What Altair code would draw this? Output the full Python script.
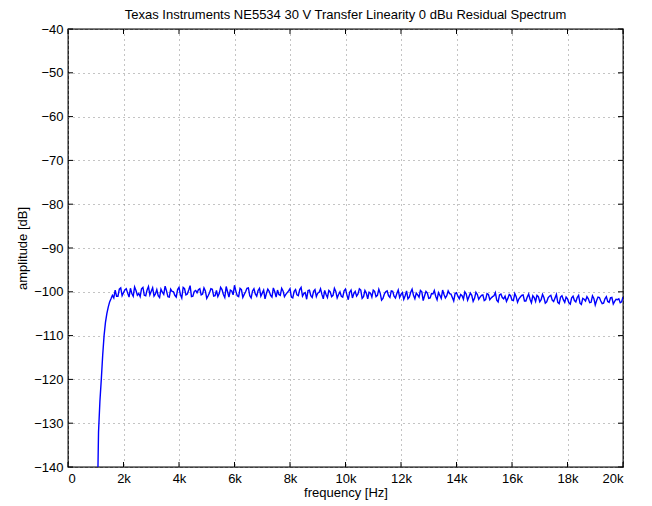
import altair as alt
import pandas as pd

# Rising edge
freq_rise = [1080, 1100, 1150, 1200, 1250, 1300, 1350, 1400, 1450, 1500, 1550, 1600, 1650, 1700, 1750]
amp_rise = [-140.0, -132.0, -125.0, -120.0, -114.5, -110.0, -107.0, -105.0, -103.5, -102.3, -101.6, -100.8, -101.4, -99.6, -101.0]

# Noisy plateau, 1.8 kHz .. 20 kHz every 100 Hz
freq_flat = list(range(1800, 20001, 100))
amp_flat = [
    -101.0, -99.1, -100.2, -99.3, -101.2, -100.4, -98.9, -100.8, -101.1, -99.0,
    -100.9, -98.8, -99.9, -101.0, -99.5, -101.3, -100.1, -98.7, -101.1, -99.4,
    -100.0, -101.2, -99.0, -101.4, -99.3, -100.5, -98.6, -101.0, -99.7, -99.5,
    -100.7, -99.1, -101.5, -100.2, -99.4, -100.9, -101.1, -99.0, -100.6, -98.8,
    -101.2, -99.8, -98.5, -100.9, -99.2, -101.3, -100.0, -99.1, -101.4, -99.3,
    -101.0, -99.2, -100.3, -101.6, -99.4, -100.8, -99.1, -101.2, -100.6, -99.2,
    -101.1, -100.2, -99.3, -101.4, -99.5, -100.9, -99.0, -100.4, -101.7, -99.6,
    -101.3, -99.5, -100.3, -99.3, -101.6, -100.6, -99.7, -101.1, -99.2, -101.4,
    -100.0, -101.2, -99.4, -101.8, -99.6, -100.4, -101.0, -99.3, -101.5, -99.7,
    -101.6, -100.3, -99.6, -101.1, -99.4, -101.9, -100.5, -99.8, -101.3, -99.9,
    -101.4, -99.6, -100.6, -101.7, -99.8, -101.2, -99.4, -101.6, -100.7, -99.7,
    -102.0, -99.9, -101.5, -100.4, -99.7, -101.8, -100.8, -99.6, -101.4, -99.8,
    -100.5, -102.1, -100.2, -101.6, -100.9, -100.0, -101.9, -100.3, -102.2, -100.1,
    -101.7, -100.8, -102.0, -100.4, -101.8, -101.1, -100.2, -102.3, -100.5, -101.6,
    -102.2, -100.6, -101.9, -100.4, -102.4, -101.2, -100.7, -102.1, -100.5, -102.5,
    -101.3, -100.8, -102.3, -100.6, -102.6, -101.4, -100.8, -102.2, -100.6, -102.7,
    -100.9, -102.4, -101.6, -102.8, -101.0, -102.3, -100.8, -102.9, -101.7, -101.1,
    -102.5, -100.9, -103.0, -101.2, -102.1, -102.6, -101.1, -102.4, -101.3, -102.2,
    -101.8, -102.5, -101.2,
]

# In-between bins, 1.85 kHz .. 19.95 kHz every 100 Hz
freq_mid = list(range(1850, 20000, 100))
amp_mid = [
    -99.4, -100.9, -99.6, -100.3, -99.2, -101.0, -99.7, -100.4, -99.3, -100.8,
    -99.6, -100.7, -99.1, -100.5, -100.9, -99.4, -100.6, -99.8, -101.2, -99.9,
    -100.8, -99.5, -100.6, -99.0, -100.7, -99.6, -101.1, -99.9, -100.2, -99.3,
    -100.5, -99.8, -100.9, -99.3, -101.0, -99.7, -100.4, -99.5, -101.3, -100.0,
    -99.6, -100.7, -99.9, -101.1, -99.5, -100.6, -99.2, -100.9, -99.8, -100.5,
    -99.7, -101.0, -99.6, -100.4, -99.9, -101.2, -100.0, -99.6, -100.8, -99.8,
    -100.6, -99.8, -101.2, -99.9, -100.7, -99.5, -101.0, -100.2, -99.7, -100.9,
    -99.9, -101.1, -100.1, -100.6, -99.7, -101.3, -100.0, -100.8, -99.9, -100.6,
    -101.0, -99.8, -100.7, -100.1, -101.4, -99.9, -100.5, -99.6, -101.1, -100.3,
    -100.1, -101.2, -99.9, -100.8, -100.3, -101.5, -100.0, -100.9, -99.8, -101.0,
    -100.4, -101.3, -100.2, -100.9, -101.6, -100.1, -100.8, -100.3, -101.2, -100.0,
    -100.9, -100.3, -101.4, -100.5, -101.0, -100.2, -101.5, -100.6, -100.9, -100.4,
    -101.3, -100.4, -101.0, -100.6, -101.7, -100.5, -101.1, -100.8, -101.5, -100.6,
    -101.2, -100.7, -101.8, -100.6, -101.4, -100.9, -101.9, -100.7, -101.3, -101.0,
    -101.5, -100.9, -102.0, -101.1, -101.6, -100.8, -102.1, -101.2, -101.7, -100.9,
    -102.2, -101.1, -101.8, -101.3, -102.3, -101.0, -101.9, -101.4, -102.4, -101.2,
    -101.8, -101.2, -102.5, -101.4, -102.0, -101.3, -102.6, -101.5, -102.1, -101.6,
    -102.4, -101.5, -102.0, -101.3, -102.7, -101.6, -102.2, -101.4, -102.8, -101.7,
    -101.6, -102.3,
]

x_ticks = [0, 2000, 4000, 6000, 8000, 10000, 12000, 14000, 16000, 18000, 20000]
y_ticks = [-140, -130, -120, -110, -100, -90, -80, -70, -60, -50, -40]

title = "Texas Instruments NE5534 30 V Transfer Linearity 0 dBu Residual Spectrum"

df = pd.DataFrame({"f": freq_rise + freq_flat + freq_mid,
                   "a": amp_rise + amp_flat + amp_mid}).sort_values("f")
dfx = pd.DataFrame({"t": x_ticks})
dfy = pd.DataFrame({"t": y_ticks})

W, H = 555, 438
FONT = "Liberation Sans"

xscale = alt.Scale(domain=[0, 20000], nice=False)
yscale = alt.Scale(domain=[-140, -40], nice=False)

xaxis = alt.Axis(values=x_ticks, labelExpr="datum.value == 0 ? '0' : (datum.value/1000) + 'k'",
                 title="frequency [Hz]", grid=True, ticks=False, domain=False,
                 labelPadding=5, titlePadding=1, gridDash=[1, 4])
yaxis = alt.Axis(values=y_ticks, title="amplitude [dB]", grid=True, ticks=False, domain=False,
                 labelPadding=5, titlePadding=4, gridDash=[1, 4])

line = alt.Chart(df).mark_line(color="#0000ff", strokeWidth=1.4, clip=True).encode(
    x=alt.X("f:Q", scale=xscale, axis=xaxis),
    y=alt.Y("a:Q", scale=yscale, axis=yaxis),
    order="f:Q",
)

tb = alt.Chart(dfx).mark_rule(color="black", strokeWidth=1).encode(
    x=alt.X("t:Q", scale=xscale, axis=xaxis), y=alt.value(H), y2=alt.value(H - 5))
tt = alt.Chart(dfx).mark_rule(color="black", strokeWidth=1).encode(
    x=alt.X("t:Q", scale=xscale, axis=xaxis), y=alt.value(0), y2=alt.value(5))
tl = alt.Chart(dfy).mark_rule(color="black", strokeWidth=1).encode(
    y=alt.Y("t:Q", scale=yscale, axis=yaxis), x=alt.value(0), x2=alt.value(5))
tr = alt.Chart(dfy).mark_rule(color="black", strokeWidth=1).encode(
    y=alt.Y("t:Q", scale=yscale, axis=yaxis), x=alt.value(W), x2=alt.value(W - 5))

chart = alt.layer(line, tb, tt, tl, tr).properties(
    width=W, height=H,
    background="white",
    title=alt.TitleParams(title, fontSize=13, font=FONT, fontWeight="normal", color="black",
                          anchor="middle", offset=1),
    autosize=alt.AutoSizeParams(type="none"),
    padding={"left": 60, "top": 21, "right": 20, "bottom": 33},
).configure_view(stroke="black", strokeWidth=1.3).configure_axis(
    labelFont=FONT, titleFont=FONT, labelFontSize=13, titleFontSize=13,
    labelColor="black", titleColor="black", titleFontWeight="normal",
    gridColor="#888888", gridWidth=1, gridOpacity=1,
)

chart.save("out.html", embed_options={"renderer": "svg", "actions": False})
